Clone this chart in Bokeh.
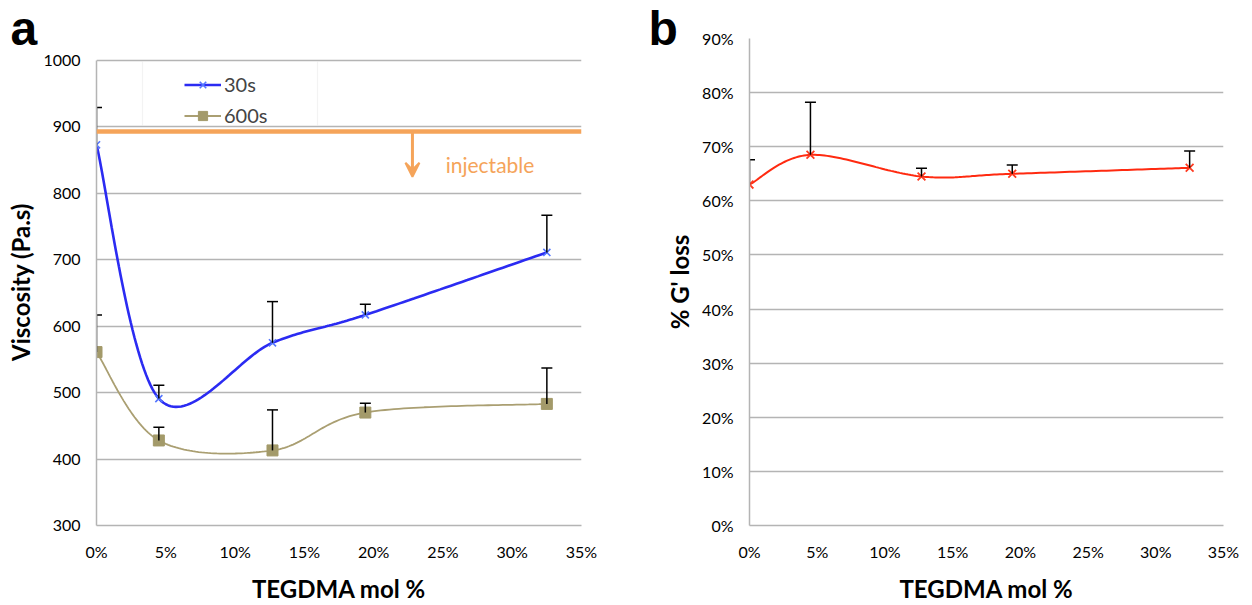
from bokeh.plotting import figure
from bokeh.models import (ColumnDataSource, Whisker, TeeHead, FixedTicker, Label, Title,
                          Legend, LegendItem, Arrow, VeeHead, Span, Range1d, BoxAnnotation)
from bokeh.layouts import row
from bokeh.embed import file_html
from bokeh.resources import INLINE

# ---------------- data ----------------
tegdma_mol_pct = [0, 4.5, 12.7, 19.4, 32.5]
visc_30s = [873, 491, 575, 617, 711]
visc_30s_err = [56, 20, 62, 16, 56]
visc_600s = [561, 428, 413, 470, 483]
visc_600s_err = [56, 20, 61, 14, 54]
g_loss_pct = [63.0, 68.5, 64.5, 65.0, 66.1]
g_loss_err = [4.6, 9.7, 1.5, 1.6, 3.1]

x_ticks = [0, 5, 10, 15, 20, 25, 30, 35]
x_tick_labels = ["0%", "5%", "10%", "15%", "20%", "25%", "30%", "35%"]
visc_ticks = [300, 400, 500, 600, 700, 800, 900, 1000]
gloss_ticks = [0, 10, 20, 30, 40, 50, 60, 70, 80, 90]
gloss_tick_labels = ["0%", "10%", "20%", "30%", "40%", "50%", "60%", "70%", "80%", "90%"]
series_labels = ["30s", "600s"]
injectable_threshold = 893
injectable_arrow_x = 22.8
injectable_arrow_end = 825
injectable_text = "injectable"
injectable_text_pos = (25.2, 843)

FONT = "Lato"
GRID = "#b4b4b4"
ORANGE = "#f5a45a"


def smooth(xs, ys, n=40):
    """Excel-style smoothed (Bezier / Catmull-Rom) path through the data points."""
    N = len(xs)
    px, py = [], []
    for i in range(N - 1):
        x0, y0 = xs[max(i - 1, 0)], ys[max(i - 1, 0)]
        x1, y1 = xs[i], ys[i]
        x2, y2 = xs[i + 1], ys[i + 1]
        x3, y3 = xs[min(i + 2, N - 1)], ys[min(i + 2, N - 1)]
        c1x, c1y = x1 + (x2 - x0) / 6, y1 + (y2 - y0) / 6
        c2x, c2y = x2 - (x3 - x1) / 6, y2 - (y3 - y1) / 6
        for k in range(n):
            t = k / n
            a, b, c, d = (1 - t) ** 3, 3 * (1 - t) ** 2 * t, 3 * (1 - t) * t ** 2, t ** 3
            px.append(a * x1 + b * c1x + c * c2x + d * x2)
            py.append(a * y1 + b * c1y + c * c2y + d * y2)
    px.append(xs[-1])
    py.append(ys[-1])
    return px, py


def style(p, yticks, ylabels=None):
    p.outline_line_color = None
    p.xgrid.grid_line_color = None
    p.ygrid.grid_line_color = GRID
    p.ygrid.grid_line_width = 1.5
    p.xaxis.ticker = FixedTicker(ticks=x_ticks)
    p.xaxis.major_label_overrides = dict(zip(x_ticks, x_tick_labels))
    p.yaxis.ticker = FixedTicker(ticks=yticks)
    p.yaxis.bounds = (yticks[0], yticks[-1])
    if ylabels:
        p.yaxis.major_label_overrides = dict(zip(yticks, ylabels))
    for ax in p.axis:
        ax.major_tick_line_color = None
        ax.minor_tick_line_color = None
        ax.major_tick_in = 0
        ax.major_tick_out = 0
        ax.minor_tick_in = 0
        ax.minor_tick_out = 0
        ax.axis_line_color = GRID
        ax.axis_line_width = 1.5
        ax.major_label_text_font = FONT
        ax.major_label_text_font_size = "16px"
        ax.major_label_text_color = "black"
        ax.major_label_standoff = 16
        ax.axis_label_text_font = FONT
        ax.axis_label_text_font_style = "bold"
        ax.axis_label_text_font_size = "24px"
        ax.axis_label_text_color = "black"
    p.xaxis.axis_label_standoff = 10
    p.yaxis.axis_label_standoff = 5


def err_bars(p, xs, ys, errs):
    src = ColumnDataSource(dict(x=xs, lower=ys, upper=[y + e for y, e in zip(ys, errs)]))
    w = Whisker(source=src, base="x", lower="lower", upper="upper", dimension="height",
                line_color="black", line_width=1.5, lower_head=None,
                upper_head=TeeHead(size=11, line_color="black", line_width=1.5), level="glyph")
    p.add_layout(w)


def panel_letter(p, letter, offset):
    p.add_layout(Title(text=letter, align="left", offset=offset, vertical_align="top",
                       standoff=-36, text_font="Liberation Sans", text_font_style="bold",
                       text_font_size="48px", text_color="black"), "above")


# ---------------- panel a ----------------
# frame spans 38..527 px; 1000 sits at 60 px, so the range top is a little above 1000
pa = figure(width=640, height=605, x_range=Range1d(0, 35), y_range=Range1d(300, 1033),
            output_backend="svg", toolbar_location=None,
            min_border_left=96, min_border_right=59, min_border_top=38, min_border_bottom=78)
style(pa, visc_ticks)
pa.xaxis.axis_label = "TEGDMA mol %"
pa.yaxis.axis_label = "Viscosity (Pa.s)"

err_bars(pa, tegdma_mol_pct, visc_30s, visc_30s_err)
err_bars(pa, tegdma_mol_pct, visc_600s, visc_600s_err)

sx, sy = smooth(tegdma_mol_pct, visc_600s)
l600 = pa.line(sx, sy, line_color="#aa9f72", line_width=1.8)
m600 = pa.scatter(tegdma_mol_pct, visc_600s, marker="square", size=11,
                  fill_color="#a39a6a", line_color="#a39a6a")
sx, sy = smooth(tegdma_mol_pct, visc_30s)
l30 = pa.line(sx, sy, line_color="#2b2bf2", line_width=2.6)
m30 = pa.scatter(tegdma_mol_pct, visc_30s, marker="x", size=10,
                 line_color="#5577ff", line_width=1.6)

pa.add_layout(Span(location=injectable_threshold, dimension="width",
                   line_color=ORANGE, line_width=4.5))
pa.add_layout(Arrow(x_start=injectable_arrow_x, y_start=injectable_threshold,
                    x_end=injectable_arrow_x, y_end=injectable_arrow_end,
                    line_color=ORANGE, line_width=3,
                    end=VeeHead(size=14, fill_color=ORANGE, line_color=ORANGE, line_width=2)))
pa.add_layout(Label(x=injectable_text_pos[0], y=injectable_text_pos[1], text=injectable_text,
                    text_font=FONT, text_font_size="21px", text_color=ORANGE,
                    text_baseline="middle"))

pa.add_layout(BoxAnnotation(left=46, right=221, top=464, bottom=400,
                            left_units="screen", right_units="screen",
                            top_units="screen", bottom_units="screen",
                            fill_color="white", fill_alpha=1.0,
                            line_color="#d6d6d6", line_width=1.2))
legend = Legend(items=[LegendItem(label=series_labels[0], renderers=[l30, m30]),
                       LegendItem(label=series_labels[1], renderers=[l600, m600])],
                location=(88, 398), padding=0, margin=0, spacing=7,
                glyph_width=37, glyph_height=23, label_height=23, label_standoff=3,
                label_text_font=FONT, label_text_font_size="20px",
                background_fill_alpha=0, border_line_alpha=0)
pa.add_layout(legend)
panel_letter(pa, "a", -86)

# ---------------- panel b ----------------
pb = figure(width=612, height=605, x_range=Range1d(0, 35), y_range=Range1d(0, 90),
            output_backend="svg", toolbar_location=None,
            min_border_left=109, min_border_right=29, min_border_top=38, min_border_bottom=78)
style(pb, gloss_ticks, gloss_tick_labels)
pb.xaxis.axis_label = "TEGDMA mol %"
pb.yaxis.axis_label = "% G' loss"

err_bars(pb, tegdma_mol_pct, g_loss_pct, g_loss_err)
sx, sy = smooth(tegdma_mol_pct, g_loss_pct)
pb.line(sx, sy, line_color="#ff2a10", line_width=2)
pb.scatter(tegdma_mol_pct, g_loss_pct, marker="x", size=11, line_color="#ff3a20", line_width=1.8)
panel_letter(pb, "b", -101)

layout = row(pa, pb)
open("out.html", "w").write(file_html(layout, INLINE))
